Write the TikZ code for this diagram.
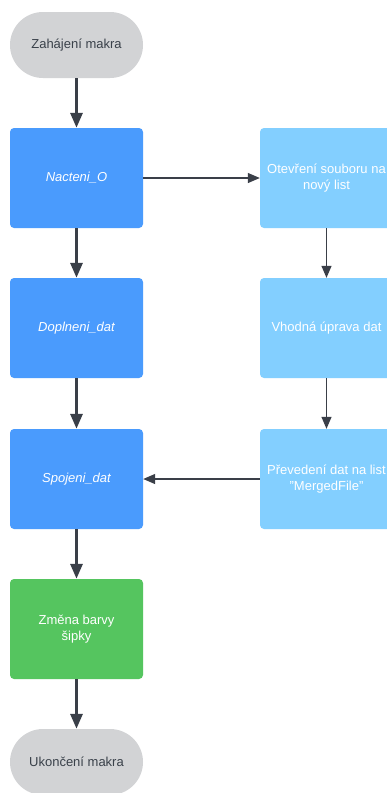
\documentclass[tikz,border=0pt]{standalone}
\usepackage{fontspec}
\setmainfont{Liberation Sans}
\usetikzlibrary{arrows.meta}
\definecolor{termgray}{HTML}{D2D3D5}
\definecolor{mainblue}{HTML}{4A9BFD}
\definecolor{lightblue}{HTML}{83CFFF}
\definecolor{okgreen}{HTML}{55C55F}
\definecolor{arrowc}{HTML}{3A3F48}
\definecolor{txtdark}{HTML}{3A414A}
\begin{document}
\begin{tikzpicture}[x=1pt,y=-1pt,
  base/.style={rectangle,minimum width=133pt,inner sep=0pt,align=center,
    font=\fontsize{13}{16}\selectfont},
  term/.style={base,minimum height=66pt,rounded corners=33pt,fill=termgray,text=txtdark},
  procbox/.style={base,minimum height=100pt,rounded corners=4pt,fill=mainblue,text=white,
    font=\fontsize{13}{16}\selectfont\itshape},
  sidebox/.style={base,minimum height=100pt,rounded corners=4pt,fill=lightblue,text=white},
  greenbox/.style={base,minimum height=100pt,rounded corners=4pt,fill=okgreen,text=white},
  thickarrow/.style={draw=arrowc,line width=3pt,-{Triangle[length=15pt,width=12pt]}},
  thinarrow/.style={draw=arrowc,line width=1.2pt,-{Triangle[length=12pt,width=10pt]}}
]
\useasboundingbox[fill=white] (0,0) rectangle (387,793);
\node[term] (start) at (76.5,45) {Zahájení makra};
\node[procbox] (nac) at (76.5,178) {Nacteni\_O};
\node[procbox] (dop) at (76.5,328) {Doplneni\_dat};
\node[procbox] (spo) at (76.5,479) {Spojeni\_dat};
\node[greenbox] (zme) at (76.5,629) {Změna barvy\\šipky};
\node[term] (konec) at (76.5,762) {Ukončení makra};
\node[sidebox] (ote) at (326.5,178) {Otevření souboru na\\nový list};
\node[sidebox] (vho) at (326.5,328) {Vhodná úprava dat};
\node[sidebox] (pre) at (326.5,479) {Převedení dat na list\\"MergedFile"};
\draw[thickarrow] (start) -- (nac);
\draw[thickarrow] (nac) -- (dop);
\draw[thickarrow] (dop) -- (spo);
\draw[thickarrow] (spo) -- (zme);
\draw[thickarrow] (zme) -- (konec);
\draw[thinarrow] (nac) -- (ote);
\draw[thinarrow] (ote) -- (vho);
\draw[thinarrow] (vho) -- (pre);
\draw[thinarrow] (pre) -- (spo);
\end{tikzpicture}
\end{document}
